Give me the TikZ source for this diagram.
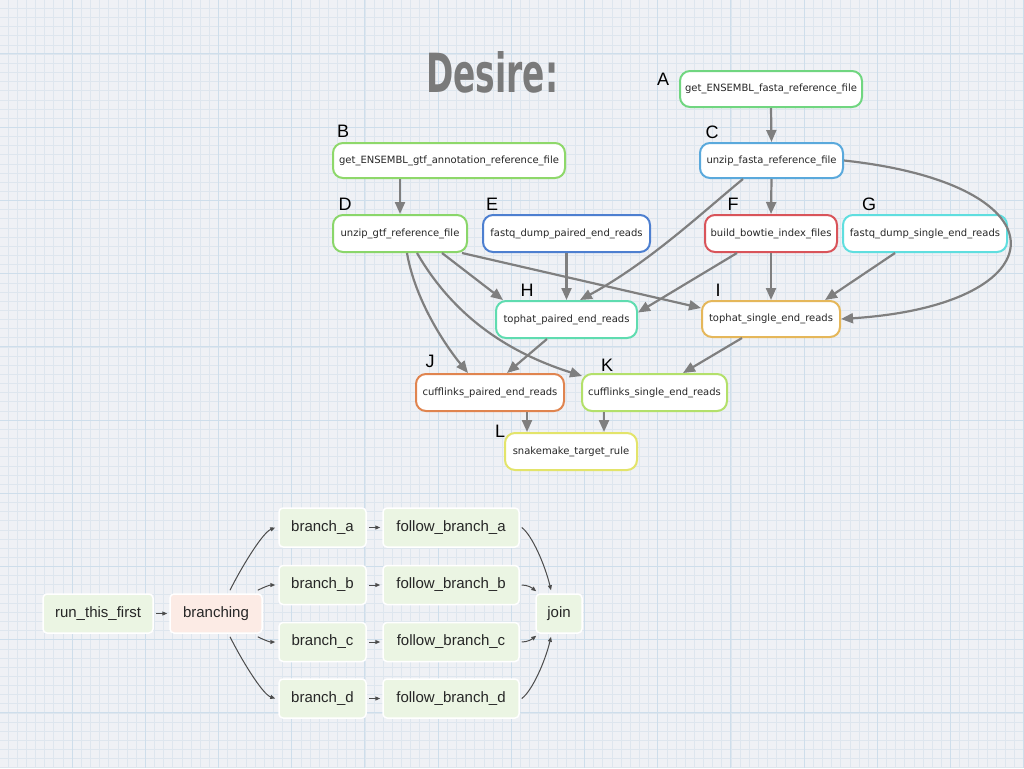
\documentclass[tikz,border=0pt]{standalone}
\usepackage{fontspec}
\usepackage{graphicx}
\setmainfont{DejaVu Sans}
\newfontfamily\labfont{Liberation Sans}
\newfontfamily\titlefont{DejaVu Sans Condensed}
\usetikzlibrary{arrows.meta}
\definecolor{bg}{HTML}{EFF1F5}
\definecolor{minorl}{HTML}{DEE6EE}
\definecolor{majorl}{HTML}{CEDEEB}
\definecolor{edgegray}{HTML}{7F7F7F}
\definecolor{cA}{HTML}{70D680}
\definecolor{cB}{HTML}{8ED86A}
\definecolor{cC}{HTML}{5AA9DC}
\definecolor{cD}{HTML}{8AD66A}
\definecolor{cE}{HTML}{4D7FD0}
\definecolor{cF}{HTML}{D9545A}
\definecolor{cG}{HTML}{5FDEDF}
\definecolor{cH}{HTML}{5FDCB0}
\definecolor{cI}{HTML}{E5B75A}
\definecolor{cJ}{HTML}{E0844F}
\definecolor{cK}{HTML}{B3E06A}
\definecolor{cL}{HTML}{E3E46A}
\definecolor{boxgreen}{HTML}{EBF5E3}
\definecolor{boxpink}{HTML}{FCEBE5}
\tikzset{
  topbox/.style={draw, line width=2pt, rounded corners=10pt, fill=white, minimum height=36pt, inner sep=0pt, font=\fontsize{10}{12}\selectfont, text=black!85},
  lbl/.style={font=\labfont\fontsize{18}{18}\selectfont, inner sep=0pt},
  topedge/.style={draw=edgegray, line width=2.2pt, -{Triangle[length=12pt,width=10pt]}},
  botbox/.style={draw=white, line width=1.5pt, fill=boxgreen, rounded corners=4pt, minimum height=39pt, inner sep=0pt, font=\labfont\fontsize{15}{18}\selectfont, text=black!85},
  botedge/.style={draw=black!70, line width=1pt, -{Triangle[length=5pt,width=4pt]}}
}
\begin{document}
\begin{tikzpicture}[x=1pt,y=-1pt]
\useasboundingbox (0,0) rectangle (1024,768);
\fill[bg] (0,0) rectangle (1024,768);
% grid
\foreach \i in {-8,...,104} \draw[minorl, line width=0.5pt] ({72+\i*9.15},0) -- ({72+\i*9.15},768);
\foreach \i in {-6,...,78} \draw[minorl, line width=0.5pt] (0,{54+\i*9.15}) -- (1024,{54+\i*9.15});
\foreach \i in {-1,...,13} \draw[majorl, line width=1pt] ({72+\i*73.2},0) -- ({72+\i*73.2},768);
\foreach \i in {-1,...,10} \draw[majorl, line width=1pt] (0,{54+\i*73.2}) -- (1024,{54+\i*73.2});

% title
\node[anchor=south west, inner sep=0pt, text=black!52] (title) at (426,93) {\resizebox{132pt}{41pt}{\titlefont\bfseries Desire:}};

% top diagram nodes
\node[topbox, draw=cA, minimum width=182pt] (A) at (771,89) {get\_ENSEMBL\_fasta\_reference\_file};
\node[topbox, draw=cB, minimum width=232pt, minimum height=35pt] (B) at (449,160.5) {get\_ENSEMBL\_gtf\_annotation\_reference\_file};
\node[topbox, draw=cC, minimum width=143pt, minimum height=35pt] (C) at (771.5,160.5) {unzip\_fasta\_reference\_file};
\node[topbox, draw=cD, minimum width=134pt, minimum height=37pt] (D) at (400,233.5) {unzip\_gtf\_reference\_file};
\node[topbox, draw=cE, minimum width=167pt, minimum height=37pt] (E) at (566.5,233.5) {fastq\_dump\_paired\_end\_reads};
\node[topbox, draw=cF, minimum width=132pt, minimum height=37pt] (F) at (771,233.5) {build\_bowtie\_index\_files};
\node[topbox, draw=cG, minimum width=164pt, minimum height=37pt] (G) at (925,233.5) {fastq\_dump\_single\_end\_reads};
\node[topbox, draw=cH, minimum width=141pt, minimum height=37pt] (H) at (566.5,319.5) {tophat\_paired\_end\_reads};
\node[topbox, draw=cI, minimum width=138pt, minimum height=36pt] (I) at (771,319) {tophat\_single\_end\_reads};
\node[topbox, draw=cJ, minimum width=148pt, minimum height=37pt] (J) at (490,392.5) {cufflinks\_paired\_end\_reads};
\node[topbox, draw=cK, minimum width=145pt, minimum height=37pt] (K) at (654.5,392.5) {cufflinks\_single\_end\_reads};
\node[topbox, draw=cL, minimum width=132pt, minimum height=37pt] (L) at (571,451.5) {snakemake\_target\_rule};

% letter labels
\node[lbl] (lA) at (663,79) {A};
\node[lbl] (lB) at (343,131) {B};
\node[lbl] (lC) at (712,132) {C};
\node[lbl] (lD) at (345,204) {D};
\node[lbl] (lE) at (492,204) {E};
\node[lbl] (lF) at (733,204) {F};
\node[lbl] (lG) at (869,204) {G};
\node[lbl] (lH) at (527,290) {H};
\node[lbl] (lI) at (718,290) {I};
\node[lbl] (lJ) at (430,361) {J};
\node[lbl] (lK) at (607,365) {K};
\node[lbl] (lL) at (500,431) {L};

% top edges
\draw[topedge] (A.south) -- (C.north);
\draw[topedge] (B.south -| D.north) -- (D.north);
\draw[topedge] (C.south) -- (F.north);
\draw[topedge] (F.south) -- (I.north);
\draw[topedge] (E.south) -- (H.north);
\draw[topedge] ([xshift=37pt]J.south) -- ([xshift=-44pt]L.north);
\draw[topedge] ([xshift=-50.5pt]K.south) -- ([xshift=33pt]L.north);
\draw[topedge] ([xshift=-28.5pt]C.south) .. controls (705,210) and (650,262) .. ([xshift=13.5pt]H.north);
\draw[topedge] (C.east) .. controls (1070,185) and (1060,305) .. (I.east);
\draw[topedge] ([xshift=-34pt]F.south) -- ([yshift=7pt]H.east);
\draw[topedge] ([xshift=-30pt]G.south) -- ([xshift=54pt]I.north);
\draw[topedge] ([xshift=42pt]D.south) -- ([xshift=-63.5pt]H.north);
\draw[topedge] ([xshift=62pt]D.south) -- ([yshift=11pt]I.west);
\draw[topedge] ([xshift=7pt]D.south) .. controls (415,300) and (445,345) .. ([xshift=-22pt]J.north);
\draw[topedge] ([xshift=17pt]D.south) .. controls (450,310) and (500,350) .. ([xshift=1pt,yshift=-3pt]K.north west);
\draw[topedge] ([xshift=-19.5pt]H.south) -- ([xshift=17pt]J.north);
\draw[topedge] ([xshift=-29pt]I.south) -- ([xshift=28.5pt]K.north);

% bottom diagram nodes
\node[botbox, minimum width=110pt] (run) at (98,613.5) {run\_this\_first};
\node[botbox, fill=boxpink, minimum width=92pt] (br) at (216,613.5) {branching};
\node[botbox, minimum width=87pt] (ba) at (322.5,527.5) {branch\_a};
\node[botbox, minimum width=87pt] (bb) at (322.5,585) {branch\_b};
\node[botbox, minimum width=87pt] (bc) at (322.5,642) {branch\_c};
\node[botbox, minimum width=87pt] (bd) at (322.5,698.5) {branch\_d};
\node[botbox, minimum width=136pt] (fa) at (451,527.5) {follow\_branch\_a};
\node[botbox, minimum width=136pt] (fb) at (451,585) {follow\_branch\_b};
\node[botbox, minimum width=136pt] (fc) at (451,642) {follow\_branch\_c};
\node[botbox, minimum width=136pt] (fd) at (451,698.5) {follow\_branch\_d};
\node[botbox, minimum width=46pt] (join) at (559,613.5) {join};

% bottom edges
\draw[botedge, shorten <=2pt, shorten >=2pt] (run) -- (br);
\draw[botedge] ([xshift=14pt,yshift=3pt]br.north) .. controls (240,570) and (262,533) .. ([xshift=-3pt]ba.west);
\draw[botedge] ([xshift=-5pt,yshift=3pt]br.north east) .. controls (264,587) and (270,585) .. ([xshift=-3pt]bb.west);
\draw[botedge] ([xshift=-5pt,yshift=-3pt]br.south east) .. controls (264,640) and (270,642) .. ([xshift=-3pt]bc.west);
\draw[botedge] ([xshift=14pt,yshift=-3pt]br.south) .. controls (240,657) and (262,694) .. ([xshift=-3pt]bd.west);
\draw[botedge, shorten <=2pt, shorten >=2pt] (ba) -- (fa);
\draw[botedge, shorten <=2pt, shorten >=2pt] (bb) -- (fb);
\draw[botedge, shorten <=2pt, shorten >=2pt] (bc) -- (fc);
\draw[botedge, shorten <=2pt, shorten >=2pt] (bd) -- (fd);
\draw[botedge] ([xshift=2pt]fa.east) .. controls (532,535) and (545,565) .. ([xshift=-8pt,yshift=3pt]join.north);
\draw[botedge] ([xshift=2pt]fb.east) .. controls (528,585) and (532,588) .. ([xshift=1pt,yshift=2pt]join.north west);
\draw[botedge] ([xshift=2pt]fc.east) .. controls (528,642) and (532,639) .. ([xshift=1pt,yshift=-2pt]join.south west);
\draw[botedge] ([xshift=2pt]fd.east) .. controls (532,691) and (545,662) .. ([xshift=-8pt,yshift=-3pt]join.south);
\end{tikzpicture}
\end{document}
